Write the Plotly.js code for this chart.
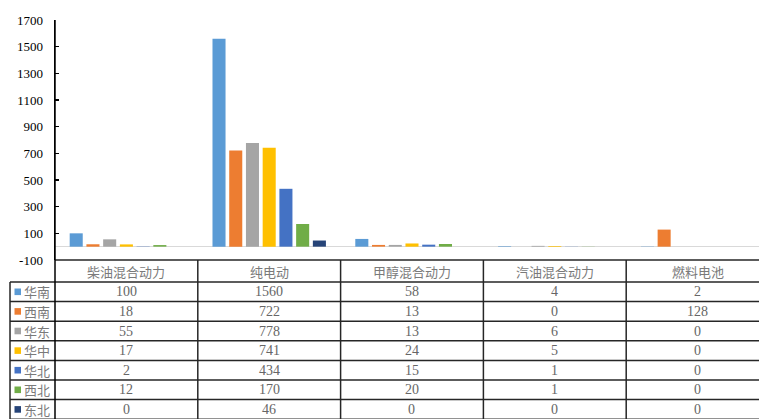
<!DOCTYPE html>
<html><head><meta charset="utf-8">
<script src="https://cdn.plot.ly/plotly-3.0.1.min.js"></script>
<style>html,body{margin:0;padding:0;background:#fff;overflow:hidden}</style>
</head><body><div id="chart" style="width:759px;height:419px"></div>
<script>
// ---- data ----
const categories = ['柴油混合动力', '纯电动', '甲醇混合动力', '汽油混合动力', '燃料电池'];
const regions = ['华南', '西南', '华东', '华中', '华北', '西北', '东北'];
const huanan = [100, 1560, 58, 4, 2];
const xinan  = [18, 722, 13, 0, 128];
const huadong = [55, 778, 13, 6, 0];
const huazhong = [17, 741, 24, 5, 0];
const huabei = [2, 434, 15, 1, 0];
const xibei = [12, 170, 20, 1, 0];
const dongbei = [0, 46, 0, 0, 0];
const seriesValues = [huanan, xinan, huadong, huazhong, huabei, xibei, dongbei];
const yTicks = [-100, 100, 300, 500, 700, 900, 1100, 1300, 1500, 1700];
const colors = ['#5B9BD5', '#ED7D31', '#A5A5A5', '#FFC000', '#4472C4', '#70AD47', '#264478'];

// ---- geometry ----
const W = 759, H = 419, ML = 55, MT = 20, MB = 159, MR = 0;
const plotW = W - ML - MR, plotH = H - MT - MB;
const X0 = -0.5, X1 = 4.43;
const px2py = p => (H - MB - p) / plotH;     // pixel y -> paper y
const px2pxp = p => (p - ML) / plotW;        // pixel x -> paper x
const cat2p = i => (i - X0) / (X1 - X0);     // category coord -> paper x

const traces = regions.map((r, k) => ({
  type: 'bar', name: r, x: categories, y: seriesValues[k],
  marker: {color: colors[k]}, hoverinfo: 'x+y+name'
}));

const lineColor = '#262626';
const shapes = [];
const annotations = [];
const headerTop = 260, rowTop = 282, rowH = 19.6, tableBottom = 421;

// horizontal table lines
shapes.push({type: 'line', xref: 'paper', yref: 'paper', x0: 0, x1: 1.02, y0: px2py(headerTop), y1: px2py(headerTop), line: {color: lineColor, width: 1.5}});
for (let k = 0; k <= regions.length; k++) {
  const yy = px2py(rowTop + k * rowH);
  shapes.push({type: 'line', xref: 'paper', yref: 'paper', x0: px2pxp(10), x1: 1.02, y0: yy, y1: yy, line: {color: lineColor, width: 1.5}});
}
// vertical lines
shapes.push({type: 'line', xref: 'paper', yref: 'paper', x0: px2pxp(10), x1: px2pxp(10), y0: px2py(rowTop), y1: px2py(tableBottom), line: {color: lineColor, width: 1.5}});
shapes.push({type: 'line', xref: 'paper', yref: 'paper', x0: 0, x1: 0, y0: 1, y1: px2py(tableBottom), line: {color: '#000', width: 1.5}});
for (let i = 0; i < categories.length; i++) {
  const xx = cat2p(i + 0.5);
  shapes.push({type: 'line', xref: 'paper', yref: 'paper', x0: xx, x1: xx, y0: px2py(headerTop), y1: px2py(tableBottom), line: {color: lineColor, width: 1.5}});
}
// header text
categories.forEach((c, i) => {
  annotations.push({xref: 'paper', yref: 'paper', x: cat2p(i), y: px2py(headerTop + 11), text: c, showarrow: false,
    xanchor: 'center', yanchor: 'middle', font: {family: 'Noto Sans CJK SC', size: 13, color: '#7a7a7a'}});
});
// rows
regions.forEach((r, k) => {
  const yc = px2py(rowTop + k * rowH + rowH / 2);
  shapes.push({type: 'rect', xref: 'paper', yref: 'paper', x0: px2pxp(14.5), x1: px2pxp(21), y0: yc - 3.3 / plotH, y1: yc + 3.3 / plotH,
    fillcolor: colors[k], line: {width: 0}});
  annotations.push({xref: 'paper', yref: 'paper', x: px2pxp(22), y: yc, text: r, showarrow: false,
    xanchor: 'left', yanchor: 'middle', font: {family: 'Noto Sans CJK SC', size: 13, color: '#7a7a7a'}});
  seriesValues[k].forEach((v, i) => {
    annotations.push({xref: 'paper', yref: 'paper', x: cat2p(i), y: yc, text: String(v), showarrow: false,
      xanchor: 'center', yanchor: 'middle', font: {family: 'Liberation Serif', size: 14, color: '#666'}});
  });
});

const layout = {
  width: W, height: H,
  margin: {l: ML, r: MR, t: MT, b: MB, pad: 0},
  paper_bgcolor: '#fff', plot_bgcolor: '#fff',
  showlegend: false,
  barmode: 'group', bargap: 0.18, bargroupgap: 0.22,
  xaxis: {type: 'category', range: [X0, X1], showticklabels: false, ticks: '', showline: false, showgrid: false, zeroline: false, fixedrange: true},
  yaxis: {range: [-100, 1700], tickvals: yTicks, ticktext: yTicks.map(String), ticks: 'inside', ticklen: 4, tickwidth: 1.5, tickcolor: '#000',
    showline: true, linecolor: '#000', linewidth: 1.5, showgrid: false,
    zeroline: true, zerolinecolor: '#d9d9d9', zerolinewidth: 1.5, ticklabelstandoff: 8,
    tickfont: {family: 'Liberation Serif', size: 13, color: '#000'}, fixedrange: true},
  shapes: shapes,
  annotations: annotations
};

Plotly.newPlot('chart', traces, layout, {displayModeBar: false, staticPlot: true});
</script>
</body></html>
